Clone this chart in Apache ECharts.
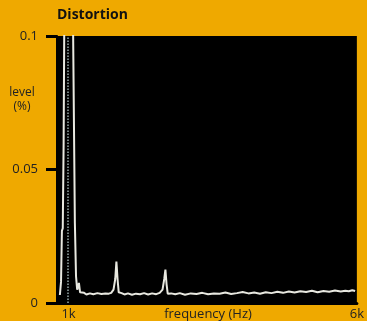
<!DOCTYPE html>
<html><head><meta charset="utf-8">
<script src="https://cdn.jsdelivr.net/npm/echarts@6/dist/echarts.min.js"></script>
<style>html,body{margin:0;padding:0;background:#EFA900;}#c{width:367px;height:321px;}</style>
</head><body><div id="c"></div>
<script>
// frequency in kHz
const freqK = [0.85,0.87,0.885,0.90,0.915,0.93,0.95,0.97,0.99,1.01,1.03,1.05,1.08,1.11,1.13,1.15,1.18,1.20,1.23,1.27,1.31,1.37,1.43,1.50,1.57,1.64,1.70,1.74,1.78,1.81,1.83,1.85,1.87,1.89,1.92,1.97,2.03,2.10,2.17,2.24,2.31,2.38,2.45,2.52,2.58,2.63,2.66,2.68,2.70,2.72,2.74,2.78,2.85,2.93,3.02,3.12,3.22,3.32,3.42,3.52,3.62,3.72,3.82,3.92,4.02,4.12,4.22,4.32,4.42,4.52,4.62,4.72,4.82,4.92,5.02,5.12,5.22,5.32,5.42,5.52,5.62,5.72,5.80,5.86,5.92,5.97];
// level in %
const level = [0.003,0.008,0.027,0.028,0.06,0.12,0.12,0.12,0.12,0.12,0.12,0.12,0.10,0.03,0.01,0.005,0.0075,0.004,0.0035,0.0038,0.0032,0.0036,0.0033,0.0037,0.0034,0.0036,0.0035,0.0038,0.005,0.009,0.0155,0.009,0.004,0.0033,0.0037,0.0032,0.0036,0.0031,0.0035,0.0033,0.0037,0.0032,0.0036,0.0033,0.0038,0.005,0.009,0.0125,0.007,0.0035,0.0032,0.0036,0.0033,0.0037,0.0031,0.0036,0.0034,0.0038,0.0033,0.0036,0.0035,0.0039,0.0034,0.0037,0.0041,0.0036,0.0039,0.0035,0.004,0.0037,0.0042,0.0038,0.0043,0.0039,0.0044,0.0041,0.0046,0.004,0.0045,0.0042,0.0047,0.0043,0.0046,0.0044,0.0048,0.0045];
const xTickLabels = [1, 6];
const fundamentalK = [0.99];

const chart = echarts.init(document.getElementById('c'));
const font = '"Open Sans", sans-serif';
chart.setOption({
  backgroundColor: '#EFA900',
  animation: false,
  grid: {left: 57, right: 7, top: 36, bottom: 17, show: true, backgroundColor: '#000', borderWidth: 0},
  title: {text: 'Distortion', left: 52, top: 3, textStyle: {fontFamily: font, fontSize: 14, fontWeight: 'bold', color: '#111'}},
  graphic: [
    {type: 'text', x: 22, y: 86, style: {text: 'level\n(%)', fontFamily: font, fontSize: 12, fill: '#222', align: 'center', lineHeight: 14}},
    {type: 'text', x: 208, y: 308, style: {text: 'frequency (Hz)', fontFamily: font, fontSize: 13, fill: '#222', align: 'center'}}
  ],
  xAxis: {
    type: 'value', min: 0.8, max: 6,
    splitLine: {show: false},
    axisLine: {show: true, onZero: false, lineStyle: {color: '#000', width: 3}},
    axisTick: {show: false},
    axisLabel: {customValues: xTickLabels, formatter: v => v + 'k', fontFamily: font, fontSize: 13, color: '#222', margin: 5}
  },
  yAxis: {
    type: 'value', min: 0, max: 0.1, interval: 0.05,
    splitLine: {show: false},
    axisLine: {show: true, onZero: false, lineStyle: {color: '#000', width: 2}},
    axisTick: {show: true, interval: 0, inside: false, length: 11, lineStyle: {color: '#000', width: 3}},
    axisLabel: {formatter: v => String(v), fontFamily: font, fontSize: 13, color: '#222', margin: 19}
  },
  series: [{
    type: 'line', data: freqK.map((f, i) => [f, level[i]]),
    showSymbol: false, clip: true,
    lineStyle: {color: '#e8e8e0', width: 2},
    markLine: {silent: true, symbol: 'none', label: {show: false},
      lineStyle: {color: '#9aa', type: 'dotted', width: 1.5},
      data: fundamentalK.map(v => ({xAxis: v}))}
  }]
});
</script></body></html>
